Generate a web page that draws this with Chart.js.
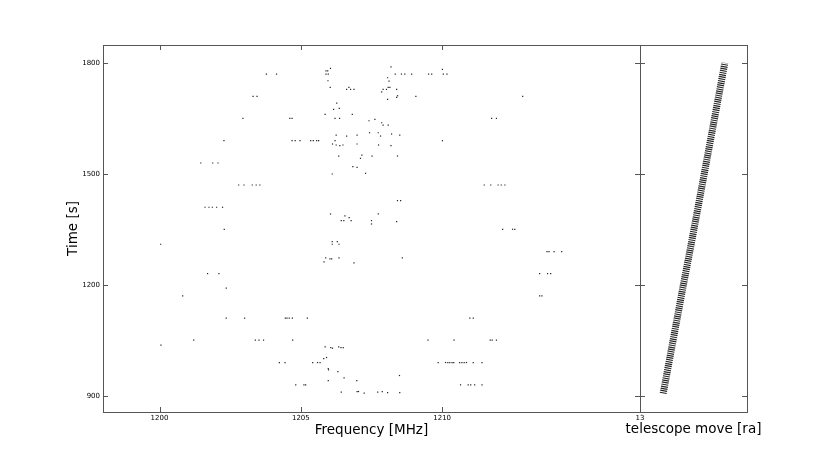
<!DOCTYPE html>
<html>
<head>
<meta charset="utf-8">
<script src="https://cdn.jsdelivr.net/npm/chart.js@4.4.1/dist/chart.umd.min.js"></script>
<style>
  html, body { margin: 0; padding: 0; background: #fff; }
  #wrap { position: relative; width: 830px; height: 458px; }
  #wrap canvas { position: absolute; left: 0; top: 0; }
</style>
</head>
<body>
<div id="wrap">
  <canvas id="freqChart" width="830" height="458"></canvas>
  <canvas id="moveChart" width="830" height="458"></canvas>
</div>
<script>
// detections: frequency [MHz] and time [s]
const freqMHz = [
  1206.05, 1205.89, 1205.95, 1205.89, 1205.97, 1203.78, 1204.14, 1205.96, 1206.04, 1206.62,
  1206.70, 1206.76, 1206.88, 1203.31, 1203.45, 1206.27, 1206.16, 1206.36, 1205.86, 1206.82,
  1206.21, 1206.37, 1202.95, 1204.61, 1204.69, 1206.25, 1206.62, 1206.99, 1202.28, 1204.69,
  1204.80, 1204.97, 1205.35, 1205.44, 1205.56, 1205.63, 1206.21, 1206.12, 1206.25, 1206.38,
  1206.49, 1206.99, 1206.34, 1206.84, 1206.99, 1201.46, 1201.88, 1202.07, 1206.11, 1202.80,
  1202.99, 1203.28, 1203.42, 1203.55, 1201.61, 1201.75, 1201.87, 1202.02, 1202.23, 1206.05,
  1206.56, 1206.71, 1206.43, 1206.52, 1206.78, 1202.29, 1208.19, 1208.34, 1208.56, 1208.68,
  1208.92, 1209.52, 1209.63, 1210.04, 1210.17, 1210.01, 1208.07, 1208.12, 1208.09, 1208.15,
  1207.91, 1208.03, 1208.39, 1207.86, 1208.42, 1208.39, 1209.07, 1208.07, 1212.85, 1211.75,
  1211.92, 1207.41, 1207.62, 1207.86, 1207.91, 1208.09, 1207.43, 1207.74, 1208.21, 1208.50,
  1207.82, 1210.01, 1207.75, 1208.19, 1207.16, 1207.11, 1207.52, 1208.42, 1207.29, 1211.49,
  1211.72, 1211.98, 1212.09, 1212.22, 1208.42, 1208.53, 1207.74, 1207.50, 1207.50, 1208.39,
  1212.14, 1212.49, 1212.57, 1200.04, 1206.11, 1206.29, 1206.11, 1206.35, 1205.88, 1206.03,
  1206.09, 1206.35, 1205.82, 1206.88, 1201.70, 1202.10, 1202.36, 1200.82, 1202.36, 1203.01,
  1204.45, 1204.51, 1204.59, 1204.70, 1205.23, 1201.21, 1203.39, 1203.52, 1203.68, 1204.71,
  1200.05, 1205.86, 1206.06, 1206.12, 1206.34, 1206.42, 1206.50, 1205.81, 1205.91, 1204.24,
  1204.44, 1205.42, 1205.59, 1205.68, 1205.97, 1205.98, 1206.31, 1205.97, 1206.53, 1206.98,
  1204.82, 1205.11, 1205.17, 1206.43, 1206.99, 1207.04, 1213.71, 1213.78, 1213.96, 1214.23,
  1208.59, 1213.45, 1213.73, 1213.84, 1213.45, 1213.53, 1210.98, 1211.10, 1209.50, 1210.42,
  1211.70, 1211.77, 1211.92, 1209.86, 1210.12, 1210.20, 1210.27, 1210.35, 1210.41, 1210.62,
  1210.70, 1210.78, 1210.86, 1211.10, 1211.41, 1208.49, 1210.65, 1210.92, 1211.01, 1211.15,
  1211.41, 1207.24, 1207.72, 1207.88, 1208.07, 1208.50
];
const timeSec = [
  1784.9, 1778.4, 1778.4, 1769.5, 1769.5, 1769.5, 1769.5, 1751.5, 1733.7, 1728.3,
  1733.7, 1728.3, 1728.3, 1709.4, 1709.4, 1691.4, 1674.4, 1677.1, 1660.9, 1660.9,
  1650.1, 1650.1, 1650.1, 1650.1, 1650.1, 1605.1, 1602.4, 1605.1, 1589.8, 1589.8,
  1589.8, 1589.8, 1589.8, 1589.8, 1589.8, 1589.8, 1589.8, 1580.9, 1578.2, 1576.3,
  1578.2, 1580.9, 1548.5, 1519.7, 1518.1, 1529.7, 1529.7, 1529.7, 1500.0, 1470.4,
  1470.4, 1470.4, 1470.4, 1470.4, 1410.3, 1410.3, 1410.3, 1410.3, 1410.3, 1392.2,
  1386.8, 1382.2, 1374.1, 1374.1, 1374.1, 1350.9, 1789.2, 1769.5, 1769.5, 1769.5,
  1769.5, 1769.5, 1769.5, 1769.5, 1769.5, 1782.2, 1759.6, 1750.7, 1733.7, 1733.7,
  1728.3, 1728.3, 1728.3, 1721.8, 1711.1, 1706.7, 1709.4, 1701.3, 1709.4, 1650.1,
  1650.1, 1643.7, 1647.4, 1638.3, 1632.1, 1632.1, 1611.3, 1611.3, 1607.8, 1605.1,
  1602.4, 1589.8, 1578.2, 1576.3, 1551.2, 1542.3, 1548.5, 1548.5, 1501.9, 1470.4,
  1470.4, 1470.4, 1470.4, 1470.4, 1428.2, 1428.2, 1392.2, 1374.1, 1365.2, 1371.4,
  1350.9, 1350.9, 1350.9, 1310.5, 1317.5, 1317.5, 1310.5, 1310.5, 1273.6, 1270.9,
  1270.9, 1273.6, 1262.8, 1260.1, 1231.3, 1231.3, 1191.9, 1171.2, 1111.1, 1111.1,
  1111.1, 1111.1, 1111.1, 1111.1, 1111.1, 1051.8, 1051.8, 1051.8, 1051.8, 1051.8,
  1038.3, 1033.7, 1031.8, 1030.2, 1033.7, 1031.8, 1031.8, 1002.2, 1004.9, 991.4,
  991.4, 991.4, 991.4, 991.4, 975.2, 971.7, 967.1, 942.9, 950.1, 942.9,
  931.3, 931.3, 931.3, 911.6, 913.2, 913.2, 1290.6, 1290.6, 1290.6, 1290.6,
  1273.6, 1231.3, 1231.3, 1231.3, 1171.2, 1171.2, 1111.1, 1111.1, 1051.8, 1051.8,
  1051.8, 1051.8, 1051.8, 991.4, 991.4, 991.4, 991.4, 991.4, 991.4, 991.4,
  991.4, 991.4, 991.4, 991.4, 991.4, 956.4, 931.3, 931.3, 931.3, 931.3,
  931.3, 908.9, 911.6, 913.2, 910.5, 910.5
];

// telescope pointing band (right panel)
const moveTime = [908, 1000, 1100, 1200, 1300, 1400, 1500, 1600, 1700, 1800];
const moveRa = [13.091, 13.116, 13.143, 13.170, 13.198, 13.225, 13.252, 13.279, 13.306, 13.333];

const timeTicks = [900, 1200, 1500, 1800];
const freqTicks = [1200, 1205, 1210];
const raTicks = [13];

const FONT = 'DejaVu Sans';
const EDGE = '#555';

// box around the plot area plus matplotlib style inward ticks
const frameTicks = {
  id: 'frameTicks',
  afterDraw(chart, args, opts) {
    const { ctx, chartArea: a, scales } = chart;
    const len = 5;
    ctx.save();
    ctx.strokeStyle = EDGE;
    ctx.lineWidth = 1;
    ctx.beginPath();
    scales.x.ticks.forEach(t => {
      const x = Math.round(scales.x.getPixelForValue(t.value)) + 0.5;
      ctx.moveTo(x, a.bottom); ctx.lineTo(x, a.bottom - len);
      ctx.moveTo(x, a.top); ctx.lineTo(x, a.top + len);
    });
    scales.y.ticks.forEach(t => {
      const y = Math.round(scales.y.getPixelForValue(t.value)) + 0.5;
      ctx.moveTo(a.left, y); ctx.lineTo(a.left + len, y);
      ctx.moveTo(a.right, y); ctx.lineTo(a.right - len, y);
    });
    ctx.stroke();
    ctx.strokeRect(Math.round(a.left) + 0.5, Math.round(a.top) + 0.5,
      Math.round(a.right - a.left), Math.round(a.bottom - a.top));
    // axis label that is wider than the narrow panel
    if (opts.label) {
      ctx.fillStyle = '#000';
      ctx.font = '13.5px "' + FONT + '"';
      ctx.textAlign = 'center';
      ctx.textBaseline = 'middle';
      ctx.fillText(opts.label, (a.left + a.right) / 2, 429);
    }
    ctx.restore();
  }
};

const plainTick = v => String(v);

function yScale(showLabels) {
  return {
    min: 858, max: 1848,
    grid: { display: false, drawTicks: false },
    border: { display: false },
    afterBuildTicks: s => { s.ticks = timeTicks.map(v => ({ value: v })); },
    afterFit: s => { s.width = showLabels ? 103 : 0; },
    ticks: { display: showLabels, padding: 3, color: '#000', callback: plainTick, font: { family: FONT, size: 7 } },
    title: {
      display: showLabels, text: 'Time [s]', color: '#000',
      font: { family: FONT, size: 13.5 }, padding: { top: 65, bottom: 0 }
    }
  };
}

function xScale(min, max, ticks, label) {
  return {
    type: 'linear', min: min, max: max,
    grid: { display: false, drawTicks: false },
    border: { display: false },
    afterBuildTicks: s => { s.ticks = ticks.map(v => ({ value: v })); },
    afterFit: s => { s.height = 46; },
    ticks: { padding: 2, color: '#000', callback: plainTick, font: { family: FONT, size: 7 }, maxRotation: 0, autoSkip: false },
    title: {
      display: !!label, text: label || '', color: '#000',
      font: { family: FONT, size: 13.5 }, padding: { top: 0, bottom: 19 }
    }
  };
}

new Chart(document.getElementById('freqChart'), {
  type: 'scatter',
  data: {
    datasets: [{
      data: freqMHz.map((f, i) => ({ x: f, y: timeSec[i] })),
      backgroundColor: '#222',
      borderWidth: 0,
      pointStyle: 'rect',
      pointRadius: 0.85,
      pointHoverRadius: 0.85
    }]
  },
  options: {
    responsive: false,
    animation: false,
    layout: { padding: { left: 0, right: 190, top: 45, bottom: 0 } },
    plugins: { legend: { display: false }, tooltip: { enabled: false }, frameTicks: {} },
    scales: {
      x: xScale(1198, 1217, freqTicks, 'Frequency [MHz]'),
      y: yScale(true)
    }
  },
  plugins: [frameTicks]
});

new Chart(document.getElementById('moveChart'), {
  type: 'line',
  data: {
    datasets: [{
      data: moveRa.map((r, i) => ({ x: r, y: moveTime[i] })),
      borderColor: 'rgba(0,0,0,0.85)',
      borderWidth: 7,
      borderDash: [1.2, 0.9],
      borderCapStyle: 'butt',
      pointRadius: 0,
      fill: false,
      tension: 0
    }]
  },
  options: {
    responsive: false,
    animation: false,
    layout: { padding: { left: 640, right: 83, top: 45, bottom: 0 } },
    plugins: { legend: { display: false }, tooltip: { enabled: false }, frameTicks: { label: 'telescope move [ra]' } },
    scales: {
      x: xScale(13, 13.42, raTicks, null),
      y: yScale(false)
    }
  },
  plugins: [frameTicks]
});
</script>
</body>
</html>
